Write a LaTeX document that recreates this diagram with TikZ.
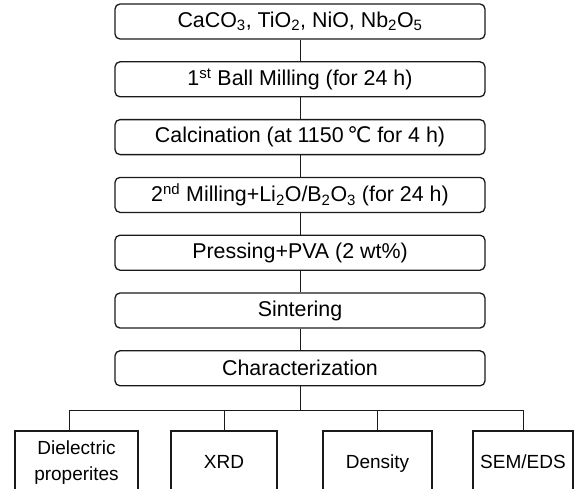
\documentclass[tikz,border=0pt]{standalone}
\usepackage{fontspec}
\setmainfont{Liberation Sans}
\newfontfamily\symfont{DejaVu Sans}
\usepackage{tikz}
\usetikzlibrary{positioning}
\definecolor{ink}{HTML}{1A1A1A}

\begin{document}
\begin{tikzpicture}[x=1pt,y=-1pt,
    stepbox/.style={draw=ink,line width=1.3pt,rounded corners=5pt,minimum width=370pt,minimum height=35pt,inner sep=0pt,font=\fontsize{21.4}{24}\selectfont},
    testbox/.style={draw=ink,line width=1.1pt,minimum height=64pt,inner sep=0pt,text height=14pt,text depth=4pt,align=center,font=\fontsize{19}{26}\selectfont},
    link/.style={draw=ink,line width=1pt}]
  \useasboundingbox (0,0) rectangle (584,488);

  % process steps
  \node[stepbox] (raw)   at (300,21.5)  {CaCO\textsubscript{3}, TiO\textsubscript{2}, NiO, Nb\textsubscript{2}O\textsubscript{5}};
  \node[stepbox] (mill1) at (300,79.3)  {1\textsuperscript{st} Ball Milling (for 24 h)};
  \node[stepbox] (calc)  at (300,137.1) {Calcination (at 1150\,{\symfont ℃} for 4 h)};
  \node[stepbox] (mill2) at (300,194.9) {2\textsuperscript{nd} Milling+Li\textsubscript{2}O/B\textsubscript{2}O\textsubscript{3} (for 24 h)};
  \node[stepbox] (press) at (300,252.7) {Pressing+PVA (2 wt\%)};
  \node[stepbox] (sint)  at (300,310.5) {Sintering};
  \node[stepbox] (char)  at (300,368.3) {Characterization};

  \draw[link] (raw) -- (mill1);
  \draw[link] (mill1) -- (calc);
  \draw[link] (calc) -- (mill2);
  \draw[link] (mill2) -- (press);
  \draw[link] (press) -- (sint);
  \draw[link] (sint) -- (char);

  % measurements
  \node[testbox,text height=,text depth=,minimum width=123pt] (diel) at (76.5,463) {Dielectric\\properites};
  \node[testbox,minimum width=106pt] (xrd)  at (224,463)  {XRD};
  \node[testbox,minimum width=109pt] (dens) at (377.5,463) {Density};
  \node[testbox,minimum width=100pt] (sem)  at (523,463)  {SEM/EDS};

  \coordinate (bus) at (300,410);
  \draw[link] (char) -- (bus);
  \draw[link] (bus) -| ([xshift=-7.5pt]diel.north);
  \draw[link] (bus) -| (xrd.north);
  \draw[link] (bus) -| (dens.north);
  \draw[link] (bus) -| (sem.north);
\end{tikzpicture}
\end{document}
